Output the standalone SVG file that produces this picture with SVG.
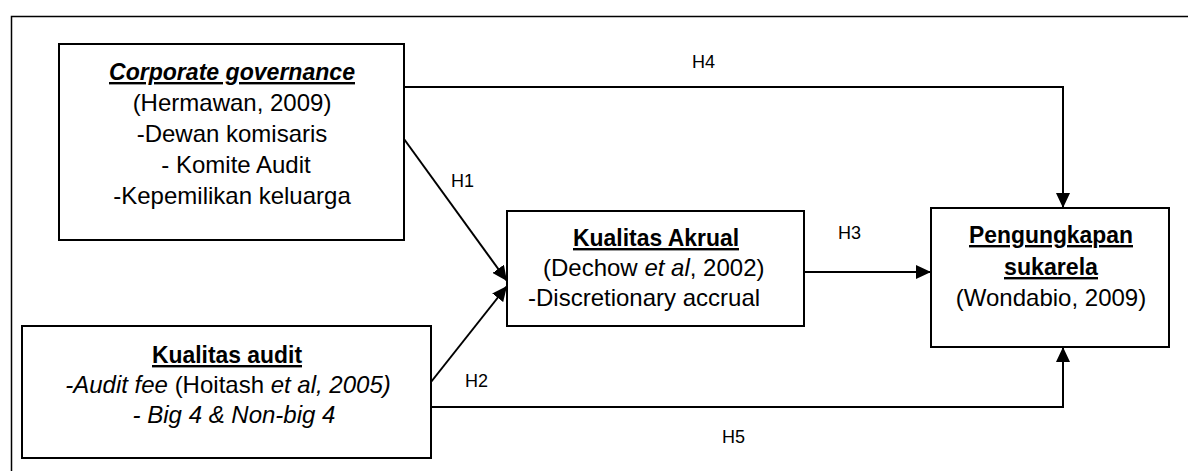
<svg xmlns="http://www.w3.org/2000/svg" width="1188" height="471" viewBox="0 0 1188 471">
<defs>
<marker id="arr" markerUnits="userSpaceOnUse" markerWidth="16" markerHeight="14" refX="15" refY="7" orient="auto">
<path d="M0,0 L15,7 L0,14 z" fill="#000"/>
</marker>
<style>
.box{fill:#fff;stroke:#000;stroke-width:2}
.t{font-family:"Liberation Sans",Arial,sans-serif;font-size:24px;fill:#000}
.c{text-anchor:middle}
.b{font-weight:bold;text-decoration:underline}
.i{font-style:italic}
.lab{font-family:"Liberation Sans",Arial,sans-serif;font-size:18px;fill:#000}
.con{fill:none;stroke:#000;stroke-width:2}
</style>
</defs>
<rect width="1188" height="471" fill="#fff"/>
<path d="M11.5,471 V16.5 H1188" fill="none" stroke="#000" stroke-width="1.5"/>

<g id="connectors">
<polyline class="con" points="404,87 1063,87 1063,208" marker-end="url(#arr)"/>
<line class="con" x1="404" y1="139" x2="507" y2="281" marker-end="url(#arr)"/>
<line class="con" x1="431" y1="382" x2="507" y2="286" marker-end="url(#arr)"/>
<line class="con" x1="804" y1="272" x2="931" y2="272" marker-end="url(#arr)"/>
<polyline class="con" points="431,407 1063,407 1063,347" marker-end="url(#arr)"/>
<text class="lab" x="692" y="68">H4</text>
<text class="lab" x="451" y="187">H1</text>
<text class="lab" x="465" y="387">H2</text>
<text class="lab" x="838" y="239">H3</text>
<text class="lab" x="722" y="443">H5</text>
</g>

<g id="node-cg">
<rect class="box" x="59" y="44" width="345" height="196"/>
<text class="t c b i" x="232" y="80" textLength="246" lengthAdjust="spacingAndGlyphs">Corporate governance</text>
<text class="t c" x="232" y="111">(Hermawan, 2009)</text>
<text class="t c" x="232" y="142">-Dewan komisaris</text>
<text class="t c" x="236" y="173">- Komite Audit</text>
<text class="t c" x="232" y="204">-Kepemilikan keluarga</text>
</g>

<g id="node-audit">
<rect class="box" x="22" y="326" width="409" height="132"/>
<text class="t c b" x="227" y="363" textLength="150" lengthAdjust="spacingAndGlyphs">Kualitas audit</text>
<text class="t c" x="228" y="393"><tspan class="i">-Audit fee </tspan>(Hoitash <tspan class="i">et al, 2005)</tspan></text>
<text class="t c i" x="234" y="423">- Big 4 &amp; Non-big 4</text>
</g>

<g id="node-akrual">
<rect class="box" x="507" y="211" width="297" height="115"/>
<text class="t c b" x="656" y="246" textLength="166" lengthAdjust="spacingAndGlyphs">Kualitas Akrual</text>
<text class="t" x="543" y="276">(Dechow <tspan class="i">et al</tspan>, 2002)</text>
<text class="t" x="528" y="306">-Discretionary accrual</text>
</g>

<g id="node-pengungkapan">
<rect class="box" x="931" y="208" width="238" height="139"/>
<text class="t c b" x="1051" y="243" textLength="164" lengthAdjust="spacingAndGlyphs">Pengungkapan</text>
<text class="t c b" x="1051" y="275" textLength="94" lengthAdjust="spacingAndGlyphs">sukarela</text>
<text class="t c" x="1051" y="306">(Wondabio, 2009)</text>
</g>
</svg>
